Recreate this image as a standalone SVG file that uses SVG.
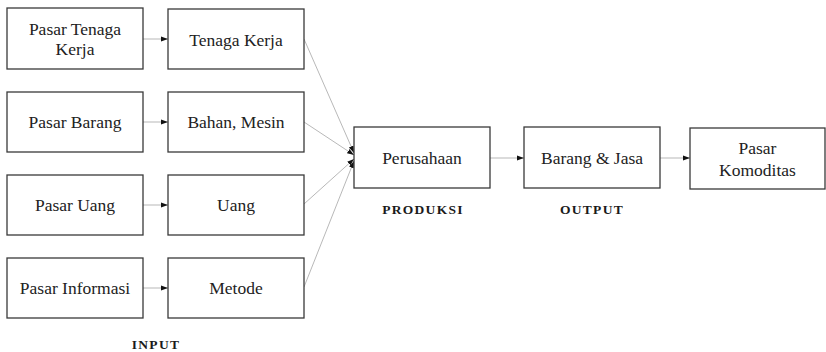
<svg xmlns="http://www.w3.org/2000/svg" width="826" height="352" viewBox="0 0 826 352">
  <defs>
    <style>
      .box { fill: #ffffff; stroke: #3a3a3a; stroke-width: 1.3; }
      .lbl { font-family: "Liberation Serif", "Times New Roman", serif; font-size: 17.5px; fill: #222; text-anchor: middle; }
      .cap { font-family: "Liberation Serif", "Times New Roman", serif; font-size: 13.5px; font-weight: bold; fill: #1a1a1a; text-anchor: middle; letter-spacing: 1.3px; }
      .link { fill: none; stroke: #999999; stroke-width: 0.7; marker-end: url(#arrow); }
    </style>
    <marker id="arrow" viewBox="0 0 10 10" refX="10" refY="5" markerWidth="7" markerHeight="7" markerUnits="userSpaceOnUse" orient="auto">
      <path d="M0,1.5 L10,5 L0,8.5 Z" fill="#111"/>
    </marker>
  </defs>
  <rect width="826" height="352" fill="#ffffff"/>

  <!-- connectors -->
  <g id="connectors">
    <line class="link" x1="143" y1="39" x2="168" y2="39"/>
    <line class="link" x1="143" y1="122" x2="168" y2="122"/>
    <line class="link" x1="143" y1="205" x2="168" y2="205"/>
    <line class="link" x1="143" y1="288" x2="168" y2="288"/>
    <line class="link" x1="304" y1="39" x2="354" y2="153"/>
    <line class="link" x1="304" y1="122" x2="354" y2="155"/>
    <line class="link" x1="304" y1="204" x2="354" y2="159"/>
    <line class="link" x1="304" y1="287" x2="354" y2="161"/>
    <line class="link" x1="490" y1="158" x2="524" y2="158"/>
    <line class="link" x1="660" y1="158" x2="690" y2="158"/>
  </g>

  <!-- input markets -->
  <g id="pasar-tenaga-kerja">
    <rect class="box" x="7" y="8" width="136" height="61"/>
    <text class="lbl" x="75" y="35">Pasar Tenaga</text>
    <text class="lbl" x="75" y="55">Kerja</text>
  </g>
  <g id="pasar-barang">
    <rect class="box" x="7" y="92" width="136" height="60"/>
    <text class="lbl" x="75" y="128">Pasar Barang</text>
  </g>
  <g id="pasar-uang">
    <rect class="box" x="7" y="175" width="136" height="60"/>
    <text class="lbl" x="75" y="211">Pasar Uang</text>
  </g>
  <g id="pasar-informasi">
    <rect class="box" x="7" y="258" width="136" height="60"/>
    <text class="lbl" x="75" y="294">Pasar Informasi</text>
  </g>

  <!-- input factors -->
  <g id="tenaga-kerja">
    <rect class="box" x="168" y="9" width="136" height="60"/>
    <text class="lbl" x="236" y="46">Tenaga Kerja</text>
  </g>
  <g id="bahan-mesin">
    <rect class="box" x="168" y="92" width="136" height="60"/>
    <text class="lbl" x="236" y="128">Bahan, Mesin</text>
  </g>
  <g id="uang">
    <rect class="box" x="168" y="175" width="136" height="60"/>
    <text class="lbl" x="236" y="211">Uang</text>
  </g>
  <g id="metode">
    <rect class="box" x="168" y="258" width="136" height="60"/>
    <text class="lbl" x="236" y="294">Metode</text>
  </g>

  <!-- production and output -->
  <g id="perusahaan">
    <rect class="box" x="354" y="127" width="136" height="61"/>
    <text class="lbl" x="422" y="164">Perusahaan</text>
  </g>
  <g id="barang-jasa">
    <rect class="box" x="524" y="127" width="136" height="61"/>
    <text class="lbl" x="592" y="164">Barang &amp; Jasa</text>
  </g>
  <g id="pasar-komoditas">
    <rect class="box" x="690" y="128" width="135" height="61"/>
    <text class="lbl" x="757.5" y="154">Pasar</text>
    <text class="lbl" x="757.5" y="176">Komoditas</text>
  </g>

  <!-- stage captions -->
  <g id="captions">
    <text class="cap" x="423" y="214">PRODUKSI</text>
    <text class="cap" x="592" y="214">OUTPUT</text>
    <text class="cap" x="156" y="349">INPUT</text>
  </g>
</svg>
